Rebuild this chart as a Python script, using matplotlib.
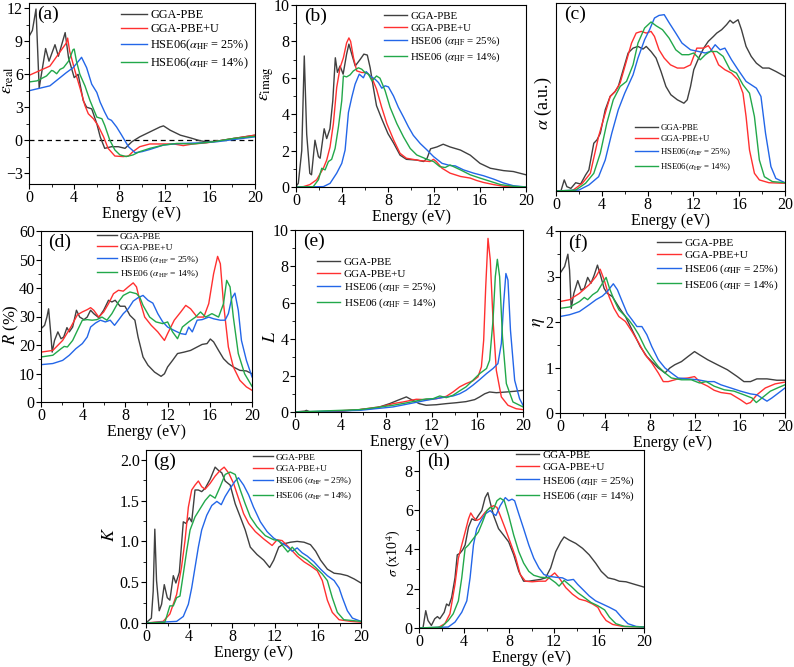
import matplotlib
matplotlib.use("Agg")
import matplotlib.pyplot as plt
from matplotlib.ticker import MultipleLocator, FormatStrFormatter

plt.rcParams['font.family'] = ['Liberation Serif', 'DejaVu Serif']
plt.rcParams['mathtext.fontset'] = 'stix'

labels = ['GGA-PBE', 'GGA-PBE+U',
          r'HSE06($\alpha_{\rm HF}$ = 25%)', r'HSE06($\alpha_{\rm HF}$ = 14%)']
labels_sp = ['GGA-PBE', 'GGA-PBE+U',
             r'HSE06 ($\alpha_{\rm HF}$ = 25%)', r'HSE06 ($\alpha_{\rm HF}$ = 14%)']
colors = ['#404040', '#ff3030', '#2366e8', '#22a84a']

# (a) real part of dielectric function: (energy eV, value)
a_pbe = [(0, 9.45), (0.3, 10.0), (0.62, 11.95), (0.9, 4.75), (1.47, 8.35), (1.77, 7.2), (2.3, 8.7),
         (2.6, 7.65), (3.2, 9.8), (3.5, 7.5), (4.0, 5.7), (4.35, 6.0), (4.8, 3.6), (5.1, 3.0),
         (5.55, 2.85), (6.0, 1.5), (6.3, 0.3), (6.7, -0.75), (7.3, -0.6), (7.9, -0.6), (8.5, -0.75),
         (9.1, -0.15), (9.8, 0.3), (10.7, 0.75), (11.6, 1.2), (11.9, 1.3), (12.5, 0.9), (12.8, 0.75),
         (13.4, 0.45), (14.3, 0.2), (15.1, -0.05), (15.7, -0.15), (16.6, -0.1), (18.1, 0.15), (20, 0.45)]
a_pbeu = [(0, 5.9), (1.85, 6.75), (3.3, 8.85), (3.42, 9.3), (3.6, 8.1), (4.07, 6.3), (4.5, 4.8),
          (4.95, 3.15), (5.25, 2.4), (5.7, 1.95), (6.1, 1.35), (6.6, 0.3), (7.0, -0.75), (7.6, -1.45),
          (8.35, -1.5), (8.8, -1.45), (9.2, -1.05), (9.8, -0.6), (10.7, -0.35), (11.9, -0.35),
          (12.8, -0.35), (13.65, -0.5), (14.5, -0.35), (15.7, -0.25), (17.5, 0.05), (20, 0.45)]
a_hse25 = [(0, 4.5), (1.85, 4.95), (3.3, 6.15), (3.9, 6.6), (4.5, 7.35), (4.65, 7.55), (5.1, 6.6),
           (5.55, 5.1), (6.0, 4.35), (6.3, 3.45), (6.7, 2.55), (7.0, 1.95), (7.3, 1.8), (7.75, 1.2),
           (8.2, 0.45), (8.8, -0.6), (9.4, -1.15), (10.0, -1.05), (10.7, -0.85), (11.3, -0.65),
           (11.9, -0.45), (12.8, -0.35), (13.65, -0.3), (15.1, -0.25), (16.6, -0.15), (18.1, 0.05), (20, 0.3)]
a_hse14 = [(0, 5.3), (0.7, 5.4), (1.55, 5.85), (2.0, 6.35), (2.15, 6.3), (2.45, 6.05), (2.75, 6.45),
           (3.05, 6.6), (3.5, 7.2), (3.9, 8.25), (4.0, 8.3), (4.2, 7.2), (4.5, 6.0), (4.95, 4.95),
           (5.4, 3.6), (6.0, 2.1), (6.45, 1.95), (6.7, 1.35), (7.15, 0.0), (7.6, -0.9), (8.05, -1.35),
           (8.6, -1.5), (9.2, -1.35), (9.8, -1.05), (10.7, -0.75), (11.9, -0.45), (13.1, -0.3),
           (14.5, -0.35), (16.3, -0.15), (18.1, 0.15), (20, 0.35)]

# (b) imaginary part
b_pbe = [(0, 0.04), (0.2, 0.2), (0.5, 2.0), (0.72, 7.2), (0.93, 2.9), (1.2, 0.75), (1.35, 0.67),
         (1.65, 2.57), (1.95, 1.67), (2.1, 1.58), (2.45, 3.2), (2.67, 2.66), (2.95, 3.2), (3.2, 4.75),
         (3.42, 7.1), (3.6, 6.3), (3.83, 6.65), (4.1, 6.2), (4.4, 7.3), (4.6, 7.85), (4.85, 7.3),
         (5.15, 6.65), (5.57, 7.0), (5.9, 7.3), (6.2, 7.25), (6.45, 6.55), (6.73, 5.45), (7.0, 4.47),
         (7.45, 3.75), (8.0, 2.93), (8.5, 2.4), (9.05, 1.75), (9.6, 1.52), (10.5, 1.48), (11.1, 1.4),
         (11.4, 1.58), (11.7, 2.1), (12.25, 2.2), (12.8, 2.35), (13.4, 2.2), (14.3, 2.03), (15.15, 1.75),
         (16.0, 1.3), (16.9, 1.03), (18.05, 0.9), (18.9, 0.85), (20, 0.67)]
b_pbeu = [(0, 0), (0.64, 0.02), (1.2, 0.13), (1.8, 0.4), (2.38, 1.03), (2.67, 1.48), (2.96, 2.2),
          (3.25, 3.48), (3.54, 5.47), (3.83, 6.55), (4.12, 7.1), (4.4, 7.92), (4.6, 8.19), (4.75, 8.0),
          (5.0, 7.1), (5.28, 6.38), (5.72, 6.29), (6.15, 6.29), (6.6, 6.0), (7.0, 5.38), (7.45, 4.38),
          (7.9, 3.48), (8.5, 2.57), (9.05, 1.85), (9.6, 1.58), (10.8, 1.45), (11.65, 1.4), (11.95, 1.52),
          (12.2, 1.4), (12.7, 1.03), (13.4, 0.76), (14.3, 0.58), (15.15, 0.49), (15.7, 0.36),
          (16.3, 0.25), (17.2, 0.13), (18.05, 0.04), (20, 0)]
b_hse25 = [(0, 0), (2.38, 0.02), (2.96, 0.2), (3.54, 0.76), (3.98, 1.3), (4.27, 2.03), (4.56, 4.1),
           (4.85, 4.93), (5.14, 5.65), (5.5, 6.2), (5.86, 6.0), (6.1, 6.34), (6.45, 6.1), (6.88, 5.92),
           (7.17, 5.74), (7.46, 5.43), (7.75, 5.56), (8.04, 5.5), (8.48, 5.0), (8.9, 4.38), (9.35, 3.84),
           (9.78, 3.3), (10.2, 2.84), (10.8, 2.39), (11.4, 2.03), (11.96, 1.67), (12.7, 1.3),
           (13.4, 1.18), (13.85, 1.16), (14.57, 0.94), (15.45, 0.76), (16.3, 0.62), (17.2, 0.43),
           (18.05, 0.22), (18.9, 0.07), (20, 0)]
b_hse14 = [(0, 0), (1.5, 0.02), (1.95, 0.4), (2.24, 1.03), (2.53, 0.94), (2.82, 1.4), (3.1, 1.52),
           (3.4, 2.12), (3.69, 3.3), (3.98, 4.75), (4.12, 6.1), (4.4, 6.05), (4.7, 6.16), (4.99, 6.38),
           (5.43, 6.55), (5.72, 6.47), (6.0, 6.29), (6.3, 6.2), (6.6, 5.83), (7.0, 6.1), (7.3, 5.98),
           (7.75, 5.29), (8.18, 4.38), (8.77, 3.48), (9.35, 2.75), (9.93, 2.12), (10.5, 1.76),
           (11.4, 1.52), (11.96, 1.4), (12.5, 1.12), (12.97, 1.07), (13.4, 1.21), (14.3, 0.94),
           (15.15, 0.67), (16.0, 0.49), (16.9, 0.31), (17.8, 0.13), (18.9, 0.04), (20, 0)]

# (c) absorption, arbitrary units
c_pbe = [(0, 0), (0.43, 0), (0.72, 5.9), (0.95, 2.3), (1.3, 1.4), (1.72, 4.4), (2.15, 3.7), (2.58, 8.5),
         (2.87, 11.2), (3.3, 25.4), (3.58, 27.2), (3.87, 30.7), (4.3, 43.2), (4.73, 50.3), (5.16, 52.9),
         (5.44, 55.6), (5.87, 64.5), (6.3, 73.4), (6.73, 76.0), (7.16, 76.9), (7.6, 75.5), (7.88, 76.9),
         (8.3, 74.2), (8.74, 70.7), (9.17, 63.6), (9.6, 55.6), (10.03, 51.2), (10.6, 48.5),
         (11.17, 46.7), (11.46, 48.5), (11.75, 55.6), (12.03, 64.5), (12.46, 70.7), (12.9, 76.0),
         (13.3, 79.6), (13.75, 82.2), (14.04, 84.0), (14.47, 85.8), (14.9, 88.5), (15.2, 90.8),
         (15.47, 89.3), (15.9, 91.1), (16.2, 85.8), (16.6, 76.9), (17.05, 71.6), (17.5, 68.0),
         (18.05, 65.4), (18.6, 65.4), (19.2, 63.6), (20, 60.9)]
c_pbeu = [(0, 0), (1.43, 0.2), (2.3, 4.1), (3.0, 9.4), (3.72, 29.0), (4.3, 41.4), (4.73, 50.3),
          (5.16, 52.9), (5.6, 57.4), (6.02, 66.3), (6.6, 78.7), (7.0, 84.0), (7.45, 84.9), (7.88, 84.0),
          (8.3, 84.9), (8.6, 82.2), (9.0, 75.1), (9.45, 70.7), (10.0, 67.1), (10.6, 65.4), (11.17, 65.4),
          (11.75, 67.1), (12.3, 76.0), (12.9, 76.0), (13.3, 77.3), (13.75, 73.4), (14.2, 67.1),
          (14.75, 64.5), (15.33, 62.7), (15.9, 59.1), (16.33, 52.0), (16.6, 39.6), (16.9, 21.8),
          (17.33, 9.4), (17.76, 5.9), (18.6, 4.4), (20, 4.1)]
c_hse25 = [(0, 0), (2.0, 0.5), (2.87, 3.2), (3.72, 7.6), (4.3, 16.5), (4.87, 30.7), (5.44, 43.2),
           (6.0, 52.0), (6.73, 61.8), (7.16, 70.7), (7.74, 80.5), (8.17, 85.8), (8.6, 92.0), (9.0, 93.4),
           (9.45, 93.8), (9.9, 89.3), (10.46, 84.0), (11.0, 78.7), (11.75, 75.1), (12.46, 74.2),
           (13.04, 73.4), (13.47, 74.2), (13.9, 77.8), (14.33, 75.1), (14.75, 76.0), (15.33, 69.8),
           (15.9, 64.5), (16.6, 58.3), (17.5, 54.7), (17.9, 50.3), (18.3, 30.7), (18.77, 13.0),
           (19.2, 6.7), (20, 4.4)]
c_hse14 = [(0, 0), (1.72, 0.5), (2.58, 4.1), (3.3, 9.4), (3.87, 20.1), (4.44, 36.1), (5.0, 48.5),
           (5.6, 55.6), (6.16, 58.3), (6.73, 67.1), (7.16, 78.7), (7.74, 86.7), (8.3, 89.9), (8.74, 87.9),
           (9.3, 85.8), (9.88, 81.3), (10.46, 75.1), (11.0, 72.5), (11.6, 72.5), (12.03, 73.4),
           (12.6, 69.8), (13.04, 72.5), (13.47, 74.2), (14.04, 74.2), (14.6, 71.6), (15.2, 64.5),
           (15.76, 62.7), (16.33, 56.5), (16.9, 52.0), (17.33, 39.6), (17.76, 16.5), (18.2, 7.6),
           (18.9, 5.0), (20, 4.4)]

# (d) reflectivity (%)
d_pbe = [(0, 25.7), (0.34, 26.9), (0.56, 29.8), (0.72, 32.7), (0.9, 25.1), (1.06, 17.5), (1.28, 21.6),
         (1.6, 24.6), (1.9, 22.2), (2.15, 22.8), (2.46, 26.1), (2.68, 24.6), (3.0, 26.3), (3.36, 32.2),
         (3.67, 29.8), (4.07, 28.9), (4.38, 29.8), (4.7, 32.2), (5.0, 31.0), (5.47, 29.6), (5.94, 32.2),
         (6.4, 35.7), (6.72, 35.1), (7.03, 35.7), (7.5, 33.6), (7.96, 33.6), (8.43, 30.4), (8.9, 28.7),
         (9.2, 22.8), (9.67, 15.8), (10.14, 12.9), (10.76, 10.5), (11.38, 9.0), (11.7, 9.9),
         (12.0, 12.3), (12.47, 14.6), (12.94, 17.0), (13.56, 17.5), (14.18, 18.1), (14.8, 19.3),
         (15.27, 20.2), (15.74, 20.5), (16.05, 22.1), (16.36, 21.1), (16.83, 18.1), (17.3, 15.2),
         (17.76, 13.5), (18.23, 12.3), (18.85, 11.1), (19.47, 10.9), (20, 9.9)]
d_pbeu = [(0, 17.5), (1.12, 18.1), (2.05, 21.6), (2.83, 26.3), (3.45, 30.6), (3.92, 31.6), (4.38, 32.4),
          (4.7, 33.1), (5.0, 32.2), (5.47, 29.8), (5.94, 31.6), (6.4, 34.5), (6.87, 38.0), (7.34, 39.2),
          (7.8, 38.9), (8.27, 40.4), (8.74, 41.8), (9.05, 40.4), (9.36, 35.7), (9.83, 29.8),
          (10.45, 26.9), (11.07, 24.6), (11.7, 21.6), (12.0, 24.0), (12.63, 28.7), (13.25, 31.6),
          (13.72, 33.9), (14.18, 32.7), (14.8, 29.8), (15.43, 29.8), (15.9, 34.5), (16.36, 45.0),
          (16.74, 51.1), (17.0, 48.5), (17.3, 34.5), (17.76, 19.3), (18.23, 12.3), (18.85, 7.6),
          (19.47, 5.3), (20, 4.1)]
d_hse25 = [(0, 13.1), (1.12, 13.5), (2.05, 14.6), (2.68, 16.4), (3.3, 18.7), (3.92, 20.5), (4.38, 22.8),
           (4.7, 26.3), (5.16, 27.7), (5.63, 28.7), (6.1, 28.1), (6.56, 28.7), (6.97, 26.9), (7.34, 28.7),
           (7.8, 31.0), (8.27, 32.7), (8.74, 35.4), (9.2, 36.6), (9.67, 37.4), (10.14, 35.7),
           (10.6, 34.7), (11.07, 31.0), (11.54, 28.1), (12.0, 26.3), (12.63, 25.1), (13.25, 24.0),
           (13.72, 23.7), (14.0, 26.3), (14.34, 24.6), (14.8, 28.7), (15.27, 28.9), (15.9, 29.8),
           (16.36, 29.2), (17.0, 28.7), (17.45, 28.7), (17.76, 31.0), (18.07, 36.3), (18.38, 38.2),
           (18.7, 32.2), (19.0, 21.6), (19.47, 14.6), (20, 8.8)]
d_hse14 = [(0, 15.8), (1.12, 16.4), (1.9, 18.7), (2.2, 19.5), (2.5, 19.3), (3.0, 21.6), (3.45, 25.1),
           (3.92, 28.7), (4.38, 28.9), (4.85, 28.7), (5.3, 28.9), (5.78, 29.8), (6.25, 28.7), (6.72, 31.0),
           (7.34, 35.1), (7.8, 37.4), (8.43, 38.6), (9.05, 38.0), (9.36, 36.8), (9.67, 33.9),
           (10.3, 29.8), (10.9, 28.1), (11.54, 27.5), (12.0, 28.1), (12.47, 24.6), (12.94, 22.2),
           (13.4, 26.3), (14.0, 28.1), (14.65, 29.8), (15.12, 31.6), (15.6, 29.8), (16.2, 31.0),
           (16.83, 29.8), (17.3, 34.5), (17.6, 42.7), (17.92, 40.4), (18.23, 29.8), (18.7, 17.0),
           (19.3, 9.9), (20, 5.5)]

# (e) energy loss
e_pbe = [(0, 0), (0.85, 0.05), (1.0, 0.09), (1.3, 0.01), (2.75, 0.01), (4.2, 0.05), (5.67, 0.13),
         (7.13, 0.22), (8.3, 0.46), (9.0, 0.64), (9.77, 0.83), (10.06, 0.73), (10.9, 0.46), (11.5, 0.37),
         (12.4, 0.4), (13.27, 0.46), (14.15, 0.51), (15.0, 0.57), (15.76, 0.68), (16.2, 0.83),
         (16.64, 1.0), (17.07, 1.1), (17.66, 1.06), (18.54, 1.1), (19.27, 1.14), (20, 1.19)]
e_pbeu = [(0, 0), (2.75, 0.02), (5.67, 0.13), (7.7, 0.31), (8.6, 0.46), (9.47, 0.55), (10.64, 0.7),
          (11.5, 0.68), (12.4, 0.73), (13.27, 0.86), (13.86, 1.1), (14.44, 1.38), (15.0, 1.56),
          (15.6, 1.71), (16.05, 1.93), (16.35, 2.48), (16.55, 3.94), (16.73, 6.88), (16.93, 9.54),
          (17.13, 8.35), (17.37, 5.05), (17.66, 2.29), (18.1, 0.83), (18.68, 0.37), (19.4, 0.18), (20, 0.13)]
e_hse25 = [(0, 0), (5.67, 0.09), (8.6, 0.28), (10.06, 0.46), (11.5, 0.64), (12.7, 0.77), (13.86, 0.88),
           (14.44, 1.0), (15.0, 1.19), (15.6, 1.47), (16.2, 1.78), (16.8, 2.11), (17.37, 2.39),
           (17.8, 2.66), (18.1, 3.76), (18.3, 5.96), (18.5, 7.61), (18.68, 7.25), (18.9, 4.5),
           (19.27, 1.74), (19.7, 0.73), (20, 0.37)]
e_hse14 = [(0, 0), (5.67, 0.13), (8.6, 0.37), (9.77, 0.5), (10.9, 0.64), (11.5, 0.72), (12.1, 0.73),
           (12.7, 0.88), (13.27, 0.79), (13.86, 0.92), (14.44, 1.16), (15.0, 1.38), (15.6, 1.74),
           (16.2, 2.11), (16.8, 2.39), (17.07, 2.84), (17.37, 5.05), (17.57, 7.43), (17.75, 8.39),
           (17.95, 7.43), (18.2, 4.13), (18.54, 1.56), (19.12, 0.55), (20, 0.28)]

# (f) refractive index
f_pbe = [(0, 3.07), (0.41, 3.22), (0.7, 3.49), (0.85, 3.14), (1.0, 2.3), (1.23, 2.63), (1.58, 2.91),
         (1.87, 2.7), (2.16, 2.74), (2.46, 2.98), (2.75, 2.85), (3.04, 3.03), (3.33, 3.25), (3.63, 3.0),
         (3.92, 2.74), (4.2, 2.63), (4.65, 2.56), (5.1, 2.38), (5.38, 2.27), (5.82, 2.12), (6.26, 1.9),
         (6.7, 1.68), (7.13, 1.46), (7.72, 1.24), (8.16, 1.13), (8.74, 0.99), (9.33, 0.88), (9.77, 0.99),
         (10.2, 1.06), (10.8, 1.13), (11.37, 1.24), (11.96, 1.35), (12.4, 1.28), (13.13, 1.17),
         (14.0, 1.06), (14.88, 0.95), (15.76, 0.8), (16.35, 0.69), (16.93, 0.69), (17.5, 0.75),
         (18.4, 0.75), (19.27, 0.72), (20, 0.72)]
f_pbeu = [(0, 2.45), (0.85, 2.49), (1.73, 2.63), (2.6, 2.82), (3.2, 3.0), (3.57, 3.16), (3.92, 2.93),
          (4.36, 2.56), (4.8, 2.3), (5.23, 2.12), (5.82, 2.01), (6.4, 1.79), (7.0, 1.54), (7.57, 1.28),
          (8.16, 1.1), (8.74, 0.88), (9.18, 0.69), (9.62, 0.69), (10.5, 0.75), (11.37, 0.77),
          (11.96, 0.8), (12.54, 0.66), (13.13, 0.59), (13.7, 0.5), (14.3, 0.45), (15.18, 0.42),
          (16.05, 0.29), (16.58, 0.2), (16.93, 0.23), (17.5, 0.4), (18.25, 0.55), (19.12, 0.64), (20, 0.68)]
f_hse25 = [(0, 2.12), (0.85, 2.16), (1.73, 2.23), (2.6, 2.38), (3.2, 2.49), (3.77, 2.57), (4.2, 2.67),
           (4.74, 2.84), (5.1, 2.71), (5.53, 2.45), (5.97, 2.19), (6.4, 2.05), (6.84, 1.9), (7.28, 1.9),
           (7.72, 1.72), (8.16, 1.46), (8.74, 1.17), (9.33, 0.99), (9.9, 0.88), (10.5, 0.77),
           (11.37, 0.75), (12.25, 0.73), (13.13, 0.69), (13.7, 0.69), (14.3, 0.62), (15.18, 0.55),
           (16.05, 0.48), (16.93, 0.42), (17.5, 0.4), (17.95, 0.33), (18.4, 0.26), (18.83, 0.33),
           (19.42, 0.44), (20, 0.55)]
f_hse14 = [(0, 2.3), (0.85, 2.33), (1.73, 2.45), (2.16, 2.54), (2.46, 2.49), (2.9, 2.6), (3.33, 2.67),
           (3.77, 2.85), (4.1, 2.98), (4.4, 2.74), (4.8, 2.49), (5.23, 2.27), (5.67, 2.16), (6.1, 2.05),
           (6.55, 1.9), (7.0, 1.72), (7.57, 1.43), (8.16, 1.21), (8.74, 1.02), (9.33, 0.88), (9.9, 0.77),
           (10.8, 0.73), (11.67, 0.73), (12.4, 0.66), (13.0, 0.69), (13.7, 0.59), (14.6, 0.51),
           (15.47, 0.48), (16.35, 0.4), (17.07, 0.33), (17.45, 0.23), (17.95, 0.33), (18.7, 0.48),
           (19.42, 0.56), (20, 0.62)]

# (g) extinction coefficient
g_pbe = [(0, 0), (0.5, 0.06), (0.67, 0.39), (0.82, 1.15), (0.98, 0.52), (1.23, 0.15), (1.45, 0.23),
         (1.7, 0.47), (1.98, 0.31), (2.22, 0.28), (2.54, 0.58), (2.78, 0.49), (3.1, 0.62), (3.47, 1.24),
         (3.72, 1.22), (4.03, 1.29), (4.25, 1.24), (4.56, 1.63), (4.87, 1.63), (5.18, 1.61), (5.5, 1.65),
         (5.96, 1.76), (6.43, 1.91), (6.74, 1.87), (7.05, 1.84), (7.36, 1.74), (7.83, 1.69), (8.3, 1.46),
         (8.77, 1.3), (9.23, 1.14), (9.7, 0.93), (10.32, 0.84), (10.95, 0.77), (11.5, 0.68),
         (11.88, 0.77), (12.35, 0.93), (12.82, 0.97), (13.44, 0.99), (14.06, 1.0), (14.7, 0.99),
         (15.3, 0.96), (15.78, 0.88), (16.24, 0.77), (16.87, 0.66), (17.5, 0.61), (18.1, 0.6),
         (18.73, 0.58), (19.36, 0.54), (20, 0.49)]
g_pbeu = [(0, 0), (1.6, 0.02), (2.22, 0.11), (2.85, 0.35), (3.3, 0.68), (3.63, 1.01), (3.94, 1.42),
          (4.25, 1.63), (4.56, 1.69), (4.87, 1.74), (5.18, 1.67), (5.5, 1.64), (5.96, 1.71), (6.43, 1.8),
          (6.9, 1.87), (7.27, 1.91), (7.68, 1.84), (8.15, 1.71), (8.6, 1.53), (9.08, 1.34), (9.55, 1.22),
          (10.17, 1.12), (10.95, 1.03), (11.73, 0.95), (12.2, 1.02), (12.66, 1.01), (13.28, 0.93),
          (14.06, 0.82), (14.7, 0.75), (15.3, 0.7), (15.93, 0.64), (16.4, 0.52), (16.87, 0.28),
          (17.33, 0.13), (17.96, 0.04), (19.05, 0.02), (20, 0.01)]
g_hse25 = [(0, 0), (2.85, 0.02), (3.47, 0.08), (3.94, 0.23), (4.25, 0.43), (4.56, 0.68), (4.87, 0.93),
           (5.18, 1.14), (5.65, 1.32), (6.12, 1.44), (6.59, 1.49), (7.0, 1.45), (7.36, 1.55), (7.83, 1.65),
           (8.3, 1.74), (8.6, 1.78), (9.08, 1.69), (9.55, 1.57), (10.0, 1.42), (10.64, 1.24),
           (11.26, 1.12), (11.88, 1.04), (12.5, 0.99), (13.1, 0.94), (13.6, 0.88), (14.06, 0.92),
           (14.53, 0.86), (15.0, 0.82), (15.62, 0.75), (16.24, 0.66), (16.87, 0.58), (17.5, 0.52),
           (17.96, 0.43), (18.27, 0.31), (18.73, 0.15), (19.2, 0.06), (20, 0.02)]
g_hse14 = [(0, 0), (1.76, 0.01), (2.22, 0.21), (2.54, 0.21), (2.85, 0.31), (3.16, 0.33), (3.47, 0.6),
           (3.78, 0.88), (4.1, 1.14), (4.56, 1.3), (5.03, 1.4), (5.5, 1.5), (5.96, 1.57), (6.43, 1.53),
           (6.9, 1.67), (7.36, 1.82), (7.83, 1.85), (8.3, 1.82), (8.77, 1.63), (9.23, 1.46), (9.7, 1.3),
           (10.32, 1.18), (11.1, 1.07), (11.88, 1.02), (12.35, 1.01), (12.82, 0.93), (13.2, 0.87),
           (13.6, 0.93), (14.2, 0.84), (15.0, 0.77), (15.78, 0.68), (16.4, 0.6), (16.87, 0.52),
           (17.33, 0.31), (17.8, 0.13), (18.4, 0.04), (20, 0.02)]

# (h) optical conductivity (x10^4)
h_pbe = [(0, 0), (0.36, 0.02), (0.6, 0.88), (0.8, 0.38), (1.1, 0.13), (1.4, 0.47), (1.64, 0.58),
         (1.85, 0.47), (2.24, 0.8), (2.45, 1.22), (2.66, 1.13), (2.9, 1.55), (3.2, 2.55), (3.4, 3.72),
         (3.64, 3.8), (3.88, 3.97), (4.1, 4.22), (4.4, 5.13), (4.7, 5.55), (5.0, 5.47), (5.28, 5.72),
         (5.58, 5.97), (5.88, 6.63), (6.12, 6.88), (6.33, 6.38), (6.63, 5.72), (7.07, 5.05), (7.52, 4.72),
         (7.97, 4.38), (8.42, 3.72), (8.87, 2.88), (9.3, 2.38), (9.76, 2.38), (10.2, 2.42), (10.8, 2.47),
         (11.25, 2.55), (11.7, 3.05), (12.15, 3.88), (12.6, 4.38), (12.9, 4.63), (13.35, 4.47),
         (13.94, 4.3), (14.54, 4.05), (15.13, 3.72), (15.7, 3.3), (16.2, 2.88), (16.8, 2.55),
         (17.4, 2.47), (17.8, 2.38), (18.4, 2.35), (19.16, 2.22), (20, 2.08)]
h_pbeu = [(0, 0), (1.7, 0.02), (2.3, 0.22), (2.75, 0.72), (3.2, 2.22), (3.5, 3.55), (3.8, 4.22),
          (4.1, 4.88), (4.4, 5.55), (4.6, 5.85), (4.84, 5.63), (5.13, 5.47), (5.43, 5.55), (5.88, 5.88),
          (6.33, 6.13), (6.63, 6.22), (6.93, 6.13), (7.22, 5.72), (7.67, 5.05), (8.1, 4.38), (8.57, 3.63),
          (9.0, 2.72), (9.46, 2.38), (10.06, 2.35), (10.66, 2.38), (11.25, 2.38), (11.7, 2.63),
          (12.06, 2.8), (12.45, 2.55), (13.05, 2.05), (13.64, 1.72), (14.24, 1.47), (14.84, 1.38),
          (15.43, 1.22), (15.9, 1.05), (16.2, 0.72), (16.63, 0.38), (17.22, 0.18), (18.12, 0.08), (20, 0.05)]
h_hse25 = [(0, 0), (2.6, 0.05), (3.2, 0.3), (3.8, 0.8), (4.25, 1.38), (4.54, 2.55), (4.84, 4.22),
           (5.13, 5.05), (5.43, 5.38), (5.88, 5.8), (6.33, 5.97), (6.63, 5.8), (6.84, 5.72), (7.22, 6.22),
           (7.67, 6.63), (7.97, 6.47), (8.27, 6.55), (8.5, 6.47), (8.87, 5.8), (9.3, 5.05), (9.76, 4.22),
           (10.2, 3.55), (10.66, 3.05), (11.1, 2.72), (11.55, 2.63), (12.15, 2.58), (12.75, 2.55),
           (13.2, 2.42), (13.73, 2.47), (14.1, 2.22), (14.54, 1.97), (15.13, 1.63), (15.7, 1.38),
           (16.3, 1.22), (16.93, 1.05), (17.5, 0.88), (18.0, 0.55), (18.57, 0.22), (19.3, 0.08), (20, 0.05)]
h_hse14 = [(0, 0), (2.0, 0.05), (2.6, 0.38), (3.04, 0.72), (3.5, 1.38), (3.8, 2.55), (4.1, 4.05),
           (4.4, 4.22), (4.84, 4.55), (5.28, 4.88), (5.64, 5.38), (6.03, 5.97), (6.33, 6.13), (6.63, 6.05),
           (6.93, 6.47), (7.22, 6.6), (7.58, 6.47), (7.97, 5.72), (8.42, 4.72), (8.87, 3.88), (9.3, 3.3),
           (9.76, 2.88), (10.2, 2.68), (10.8, 2.58), (11.55, 2.55), (12.15, 2.3), (12.45, 2.13),
           (12.9, 2.42), (13.5, 2.13), (14.1, 1.8), (14.7, 1.55), (15.28, 1.3), (15.9, 1.13),
           (16.5, 0.92), (16.93, 0.55), (17.5, 0.22), (18.27, 0.08), (20, 0.05)]

W, H = 794, 667
fig = plt.figure(figsize=(W / 100, H / 100), dpi=100)


def make_ax(l, t, r, b):
    return fig.add_axes([l / W, 1 - b / H, (r - l) / W, (b - t) / H])


def panel(ax, curves, tag, ylabel, ylim, ystep, lab_xy, leg_xy, leg_size, ysize=13,
          ydec=False, yticks=True, hlen=2.1, lspace=0.2, names=labels_sp):
    for pts, c, lab in zip(curves, colors, names):
        ax.plot([p[0] for p in pts], [p[1] for p in pts], color=c, lw=1.0, label=lab)
    ax.set_xlim(0, 20)
    ax.set_ylim(*ylim)
    ax.xaxis.set_major_locator(MultipleLocator(4))
    ax.xaxis.set_minor_locator(MultipleLocator(2))
    if yticks:
        ax.yaxis.set_major_locator(MultipleLocator(ystep))
        ax.yaxis.set_minor_locator(MultipleLocator(ystep / 2))
        if ydec:
            ax.yaxis.set_major_formatter(FormatStrFormatter('%.1f'))
    else:
        ax.set_yticks([])
    ax.tick_params(which='both', direction='out', labelsize=11.5, pad=1)
    ax.tick_params(which='major', length=3.5)
    ax.tick_params(which='minor', length=2)
    ax.set_xlabel('Energy (eV)', fontsize=11.5, labelpad=0)
    ax.set_ylabel(ylabel, fontsize=ysize)
    ax.yaxis.set_label_coords(*lab_xy)
    ax.text(0.035, 0.985, tag, transform=ax.transAxes, fontsize=14, va='top', ha='left')
    ax.legend(loc='upper left', bbox_to_anchor=leg_xy, frameon=False, fontsize=leg_size,
              handlelength=hlen, handletextpad=0.3, labelspacing=lspace, borderpad=0,
              borderaxespad=0)
    for s in ax.spines.values():
        s.set_linewidth(0.8)


ax = make_ax(29, 3, 255, 184)
ax.axhline(0, color='black', ls='--', lw=0.9, dashes=(4, 3))
panel(ax, [a_pbe, a_pbeu, a_hse25, a_hse14], '(a)', r'$\varepsilon_{\rm real}$', (-4, 12.5), 3,
      (-0.058, 0.575), (0.407, 0.967), 8.8, ysize=12.5, names=labels)

ax = make_ax(296, 5, 526, 187)
panel(ax, [b_pbe, b_pbeu, b_hse25, b_hse14], '(b)', r'$\varepsilon_{\rm imag}$', (0, 10), 2,
      (-0.087, 0.571), (0.383, 0.965), 7.8, ysize=13)

ax = make_ax(556, 3, 785, 191)
panel(ax, [c_pbe, c_pbeu, c_hse25, c_hse14], '(c)', r'$\alpha$ (a.u.)', (0, 100), 20,
      (-0.009, 0.468), (0.345, 0.356), 6.3, yticks=False, hlen=2.6, lspace=0.35, names=labels)

ax = make_ax(41, 231, 252, 402)
panel(ax, [d_pbe, d_pbeu, d_hse25, d_hse14], '(d)', r'$R$ (%)', (0, 60), 10,
      (-0.097, 0.45), (0.265, 0.994), 6.8, ysize=12, lspace=0.25)

ax = make_ax(295, 230, 523, 412)
panel(ax, [e_pbe, e_pbeu, e_hse25, e_hse14], '(e)', r'$L$', (0, 10), 2,
      (-0.07, 0.412), (0.096, 0.852), 8.0)

ax = make_ax(560, 231, 785, 413)
panel(ax, [f_pbe, f_pbeu, f_hse25, f_hse14], '(f)', r'$\eta$', (0, 4), 1,
      (-0.058, 0.5), (0.43, 0.962), 8.2)

ax = make_ax(146, 450, 361, 623)
panel(ax, [g_pbe, g_pbeu, g_hse25, g_hse14], '(g)', r'$K$', (0, 2.12), 0.5,
      (-0.13, 0.51), (0.498, 0.982), 6.7, ydec=True, lspace=0.3)

ax = make_ax(419, 450, 644, 628)
panel(ax, [h_pbe, h_pbeu, h_hse25, h_hse14], '(h)', r'$\sigma$ (x10$^4$)', (0, 9.05), 2,
      (-0.072, 0.42), (0.43, 1.0), 8.0, ysize=10)

fig.savefig('out.png', dpi=100)
